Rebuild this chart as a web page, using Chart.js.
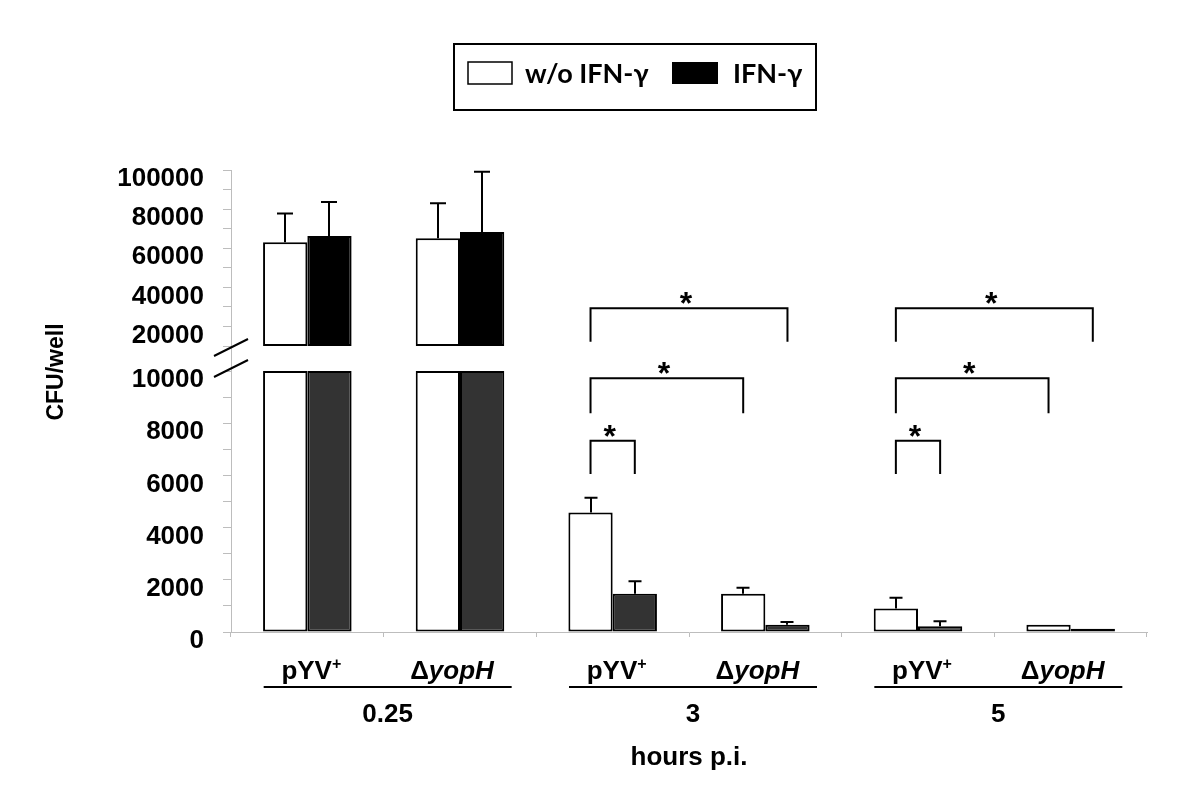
<!DOCTYPE html>
<html>
<head>
<meta charset="utf-8">
<script src="https://cdn.jsdelivr.net/npm/chart.js@4.4.1/dist/chart.umd.min.js"></script>
<style>
  html, body { margin: 0; padding: 0; background: #ffffff; }
  #wrap { width: 1200px; height: 810px; }
</style>
</head>
<body>
<div id="wrap"><canvas id="c" width="1200" height="810"></canvas></div>
<script>
// ---------------- data ----------------
const categories = ['pYV+', 'ΔyopH', 'pYV+', 'ΔyopH', 'pYV+', 'ΔyopH'];
const timeLabels = ['0.25', '3', '5'];
const xTitle = 'hours p.i.';
const yTitle = 'CFU/well';
const seriesNames = ['w/o IFN-γ', 'IFN-γ'];

const withoutIFN    = [63000, 65100, 4580, 1470, 900, 280];
const withoutIFN_sd = [14700, 17900,  560,  230, 410,   0];
const withIFN       = [66300, 68300, 1470,  280, 220, 120];
const withIFN_sd    = [17400, 30800,  470,  100, 190,   0];

const breakValue = 10000;                 // axis break: lower panel 0-10000, upper 10000-100000
const upperMax = 100000;
const lowerTickLabels = [0, 2000, 4000, 6000, 8000, 10000];
const upperTickLabels = [20000, 40000, 60000, 80000, 100000];

// significance brackets (levels in lower-axis units)
const sigFromCat   = [2, 2, 2, 4, 4, 4];
const sigToCat     = [2, 3, 3, 4, 5, 5];
const sigToSeries  = [1, 0, 1, 1, 0, 1];
const sigTop       = [7330, 9720, 12400, 7330, 9720, 12400];
const sigLeg       = [6050, 8380, 11120, 6050, 8380, 11120];
const sigMark      = ['*', '*', '*', '*', '*', '*'];

// ---------------- styles ----------------
const FONT = '"Liberation Sans", Arial, sans-serif';
const whiteFill = '#ffffff';
const blackUpper = '#000000';
const blackLower = '#333333';
const axisGray = '#bdbdbd';

const lowerWhite = withoutIFN.map(v => Math.min(v, breakValue));
const lowerBlack = withIFN.map(v => Math.min(v, breakValue));
const upperWhite = withoutIFN.map(v => v > breakValue ? [breakValue, v] : null);
const upperBlack = withIFN.map(v => v > breakValue ? [breakValue, v] : null);

const barCommon = { borderColor: '#000', borderWidth: 2, borderSkipped: false,
  categoryPercentage: 0.58, barPercentage: 1.0 };

function drawParts(ctx, parts, cx, baseline) {
  let total = 0;
  parts.forEach(p => { ctx.font = p.font; p.w = ctx.measureText(p.text).width; total += p.w; });
  let x = cx - total / 2;
  ctx.textAlign = 'left';
  ctx.textBaseline = 'alphabetic';
  parts.forEach(p => { ctx.font = p.font; ctx.fillText(p.text, x, baseline + (p.dy || 0)); x += p.w; });
}

function labelParts(label) {
  const b = 'bold 26px ' + FONT;
  if (label.endsWith('+')) {
    return [{ text: label.slice(0, -1), font: b }, { text: '+', font: 'bold 16px ' + FONT, dy: -10 }];
  }
  if (label.startsWith('Δ')) {
    return [{ text: 'Δ', font: b }, { text: label.slice(1), font: 'italic bold 26px ' + FONT }];
  }
  return [{ text: label, font: b }];
}

const decorPlugin = {
  id: 'decor',
  afterDatasetsDraw(chart) {
    const ctx = chart.ctx;
    const lower = chart.scales.lower, upper = chart.scales.upper;
    ctx.save();
    ctx.strokeStyle = '#000';
    ctx.lineWidth = 2;
    ctx.lineCap = 'butt';
    // error bars
    const vals = [withoutIFN, withIFN], sds = [withoutIFN_sd, withIFN_sd];
    for (let s = 0; s < 2; s++) {
      for (let i = 0; i < categories.length; i++) {
        const v = vals[s][i], sd = sds[s][i];
        if (!sd) continue;
        const useUpper = v > breakValue;
        const meta = chart.getDatasetMeta(useUpper ? s + 2 : s);
        const el = meta.data[i];
        const sc = useUpper ? upper : lower;
        const x = Math.round(el.x);
        const y0 = sc.getPixelForValue(v);
        const y1 = sc.getPixelForValue(v + sd);
        const half = useUpper ? 8 : 6.5;
        ctx.beginPath();
        ctx.moveTo(x, y0); ctx.lineTo(x, y1);
        ctx.moveTo(x - half, y1); ctx.lineTo(x + half, y1);
        ctx.stroke();
      }
    }
    // significance brackets
    ctx.fillStyle = '#000';
    for (let k = 0; k < sigFromCat.length; k++) {
      const xL = chart.getDatasetMeta(0).data[sigFromCat[k]].x;
      const xR = chart.getDatasetMeta(sigToSeries[k]).data[sigToCat[k]].x;
      const yT = lower.getPixelForValue(sigTop[k]);
      const yL = lower.getPixelForValue(sigLeg[k]);
      ctx.beginPath();
      ctx.moveTo(xL, yL); ctx.lineTo(xL, yT); ctx.lineTo(xR, yT); ctx.lineTo(xR, yL);
      ctx.stroke();
      ctx.font = 'bold 32px ' + FONT;
      ctx.textAlign = 'center';
      ctx.textBaseline = 'alphabetic';
      ctx.fillText(sigMark[k], (xL + xR) / 2 - 3, yT + 6);
    }
    // axis break marks
    const ax = chart.chartArea.left;
    [[upper.bottom + 1.5], [lower.top - 2.5]].forEach(([cy]) => {
      ctx.beginPath();
      ctx.moveTo(ax - 17, cy + 8.5);
      ctx.lineTo(ax + 17, cy - 8.5);
      ctx.stroke();
    });
    ctx.restore();
  },
  afterDraw(chart) {
    const ctx = chart.ctx;
    const xs = chart.scales.x;
    const area = chart.chartArea;
    ctx.save();
    ctx.fillStyle = '#000';
    ctx.strokeStyle = '#000';
    // category labels
    categories.forEach((c, i) => drawParts(ctx, labelParts(c), xs.getPixelForValue(i) - (i % 2 ? 8 : -4), 679));
    // time groups
    timeLabels.forEach((t, g) => {
      const mid = (xs.getPixelForValue(2 * g) + xs.getPixelForValue(2 * g + 1)) / 2 + 4;
      ctx.lineWidth = 2;
      ctx.beginPath();
      ctx.moveTo(mid - 124, 687); ctx.lineTo(mid + 124, 687);
      ctx.stroke();
      drawParts(ctx, [{ text: t, font: 'bold 26px ' + FONT }], mid, 722);
    });
    drawParts(ctx, [{ text: xTitle, font: 'bold 26px ' + FONT }], (area.left + area.right) / 2, 765);
    // y title
    ctx.save();
    ctx.translate(57, 372);
    ctx.rotate(-Math.PI / 2);
    ctx.font = 'bold 23px ' + FONT;
    ctx.textAlign = 'center';
    ctx.textBaseline = 'middle';
    ctx.fillText(yTitle, 0, 0);
    ctx.restore();
    // legend
    ctx.lineWidth = 2;
    ctx.strokeRect(454, 44, 362, 66);
    ctx.lineWidth = 1.5;
    ctx.fillStyle = whiteFill;
    ctx.fillRect(468, 62, 44, 22); ctx.strokeRect(468, 62, 44, 22);
    ctx.fillStyle = blackUpper;
    ctx.fillRect(672, 62, 46, 22);
    ctx.font = 'bold 27px Lato, "Liberation Sans", sans-serif';
    ctx.textAlign = 'left';
    ctx.textBaseline = 'alphabetic';
    ctx.fillText(seriesNames[0], 525, 83);
    ctx.fillText(seriesNames[1], 733, 83);
    ctx.restore();
  }
};

new Chart(document.getElementById('c'), {
  type: 'bar',
  data: {
    labels: categories,
    datasets: [
      { label: seriesNames[0], data: lowerWhite, yAxisID: 'lower', stack: 'w', backgroundColor: whiteFill, ...barCommon },
      { label: seriesNames[1], data: lowerBlack, yAxisID: 'lower', stack: 'b', backgroundColor: blackLower, ...barCommon },
      { label: seriesNames[0] + ' (upper)', data: upperWhite, yAxisID: 'upper', stack: 'w', backgroundColor: whiteFill, ...barCommon },
      { label: seriesNames[1] + ' (upper)', data: upperBlack, yAxisID: 'upper', stack: 'b', backgroundColor: blackUpper, ...barCommon }
    ]
  },
  options: {
    responsive: false,
    animation: false,
    devicePixelRatio: 1,
    layout: { padding: { top: 170, left: 0, right: 53, bottom: 0 } },
    plugins: { legend: { display: false }, tooltip: { enabled: false } },
    scales: {
      x: {
        type: 'category',
        offset: true,
        grid: { display: true, drawOnChartArea: false, drawTicks: true, tickLength: 5, color: axisGray, offset: true },
        border: { display: true, color: axisGray, width: 1 },
        ticks: { display: false },
        afterFit: s => { s.height = 178; }
      },
      upper: {
        type: 'linear', axis: 'y', position: 'left', stack: 'ystack', stackWeight: 176, weight: 3,
        stacked: false,
        min: breakValue, max: upperMax,
        grid: { drawOnChartArea: false, drawTicks: true, tickLength: 8, color: axisGray },
        border: { display: true, color: axisGray, width: 1 },
        ticks: {
          stepSize: 10000, autoSkip: false, padding: 19, labelOffset: 9, color: '#000',
          font: { family: FONT, size: 26, weight: 'bold' },
          callback: v => upperTickLabels.includes(v) ? String(v) : ''
        },
        afterFit: s => { s.width = 231; }
      },
      gap: {
        type: 'linear', axis: 'y', position: 'left', stack: 'ystack', stackWeight: 25, weight: 2,
        grid: { display: false, drawTicks: false },
        border: { display: true, color: axisGray, width: 1 },
        ticks: { display: false },
        afterFit: s => { s.width = 231; }
      },
      lower: {
        type: 'linear', axis: 'y', position: 'left', stack: 'ystack', stackWeight: 261, weight: 1,
        stacked: false,
        min: 0, max: breakValue,
        grid: { drawOnChartArea: false, drawTicks: true, tickLength: 8, color: axisGray },
        border: { display: true, color: axisGray, width: 1 },
        ticks: {
          stepSize: 1000, autoSkip: false, padding: 19, labelOffset: 9, color: '#000',
          font: { family: FONT, size: 26, weight: 'bold' },
          callback: v => lowerTickLabels.includes(v) ? String(v) : ''
        },
        afterFit: s => { s.width = 231; }
      }
    }
  },
  plugins: [decorPlugin]
});
</script>
</body>
</html>
